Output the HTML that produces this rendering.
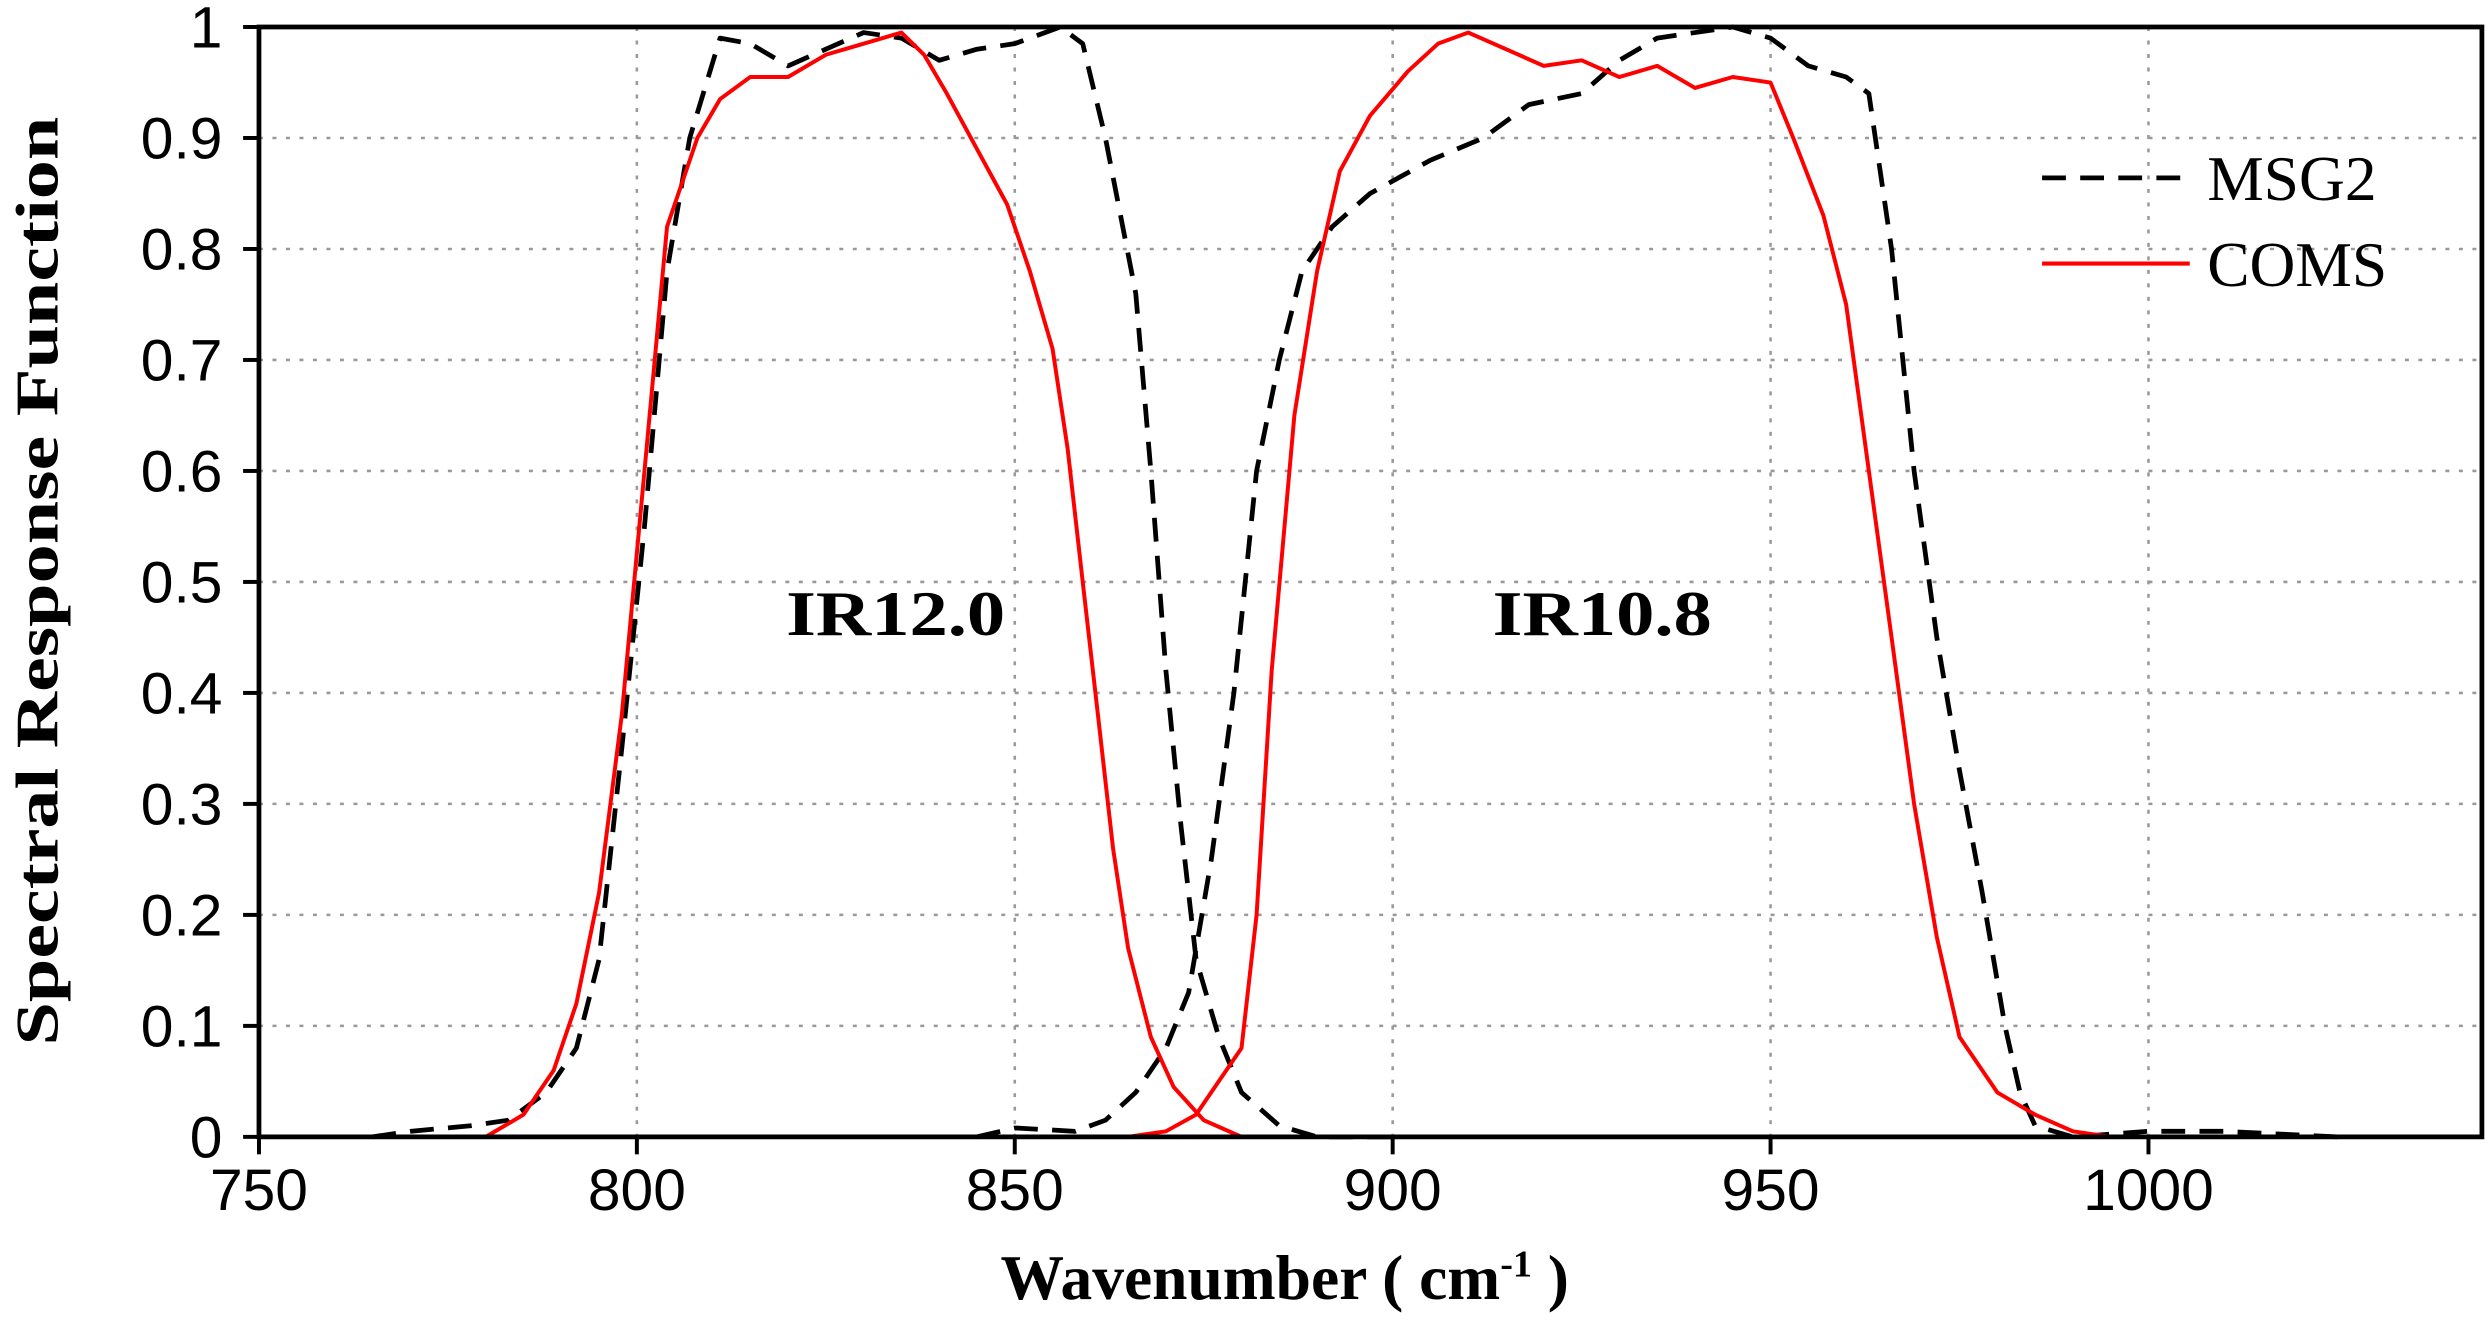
<!DOCTYPE html>
<html><head><meta charset="utf-8"><style>html,body{margin:0;padding:0;background:#fff}svg{display:block}</style></head>
<body>
<svg id="s" xmlns="http://www.w3.org/2000/svg" width="2490" height="1329" viewBox="0 0 1568 837">
<rect width="1568" height="837" fill="#fff"/>
<g id="grid" stroke="#999" stroke-width="1.6" stroke-dasharray="2.5,6"></g>
<g id="series" fill="none" stroke-linejoin="round"></g>
<rect x="163" y="17" width="1400" height="699" fill="none" stroke="#000" stroke-width="3"/>
<g id="ticks" stroke="#000" stroke-width="2.5"></g>
<g id="labels" font-family="Liberation Sans, sans-serif" font-size="37" fill="#000"></g>
<g font-family="Liberation Serif, serif" font-weight="bold" fill="#000">
<text x="495" y="400" font-size="40" textLength="138" lengthAdjust="spacingAndGlyphs">IR12.0</text>
<text x="940" y="400" font-size="40" textLength="138" lengthAdjust="spacingAndGlyphs">IR10.8</text>
<text transform="translate(36,366) rotate(-90)" text-anchor="middle" font-size="38" textLength="585" lengthAdjust="spacingAndGlyphs">Spectral Response Function</text>
<text x="630" y="818" font-size="40">Wavenumber ( cm<tspan font-size="24" dy="-14">-1</tspan><tspan dy="14"> )</tspan></text>
</g>
<g font-family="Liberation Serif, serif" font-size="40" fill="#000">
<line x1="1286" y1="112" x2="1379" y2="112" stroke="#000" stroke-width="3" stroke-dasharray="15,9"/>
<text x="1390" y="126">MSG2</text>
<line x1="1286" y1="166" x2="1379" y2="166" stroke="#f00" stroke-width="2.6"/>
<text x="1390" y="180">COMS</text>
</g>
</svg>
<script>
var NS="http://www.w3.org/2000/svg";
function X(v){return 163+(v-750)*4.76}
function Y(f){return 716-f*699}
function el(p,n,a,t){var e=document.createElementNS(NS,n);for(var k in a)e.setAttribute(k,a[k]);if(t)e.textContent=t;document.getElementById(p).appendChild(e);}
for(var v=800;v<=1000;v+=50)el("grid","line",{x1:X(v),x2:X(v),y1:17,y2:716});
for(var i=1;i<=9;i++)el("grid","line",{x1:163,x2:1563,y1:Y(i/10),y2:Y(i/10)});
for(var v=750;v<=1000;v+=50){el("ticks","line",{x1:X(v),x2:X(v),y1:716,y2:727});el("labels","text",{x:X(v),y:762,"text-anchor":"middle"},String(v));}
for(var i=0;i<=10;i++){var f=i/10;el("ticks","line",{x1:153,x2:163,y1:Y(f),y2:Y(f)});el("labels","text",{x:140,y:Y(f)+13,"text-anchor":"end"},i==10?"1":i==0?"0":f.toFixed(1));}
function pl(d,c,w,da){var p=d.map(function(q){return X(q[0]).toFixed(1)+","+Y(q[1]).toFixed(1)}).join(" ");var a={points:p,stroke:c,"stroke-width":w};if(da)a["stroke-dasharray"]=da;el("series","polyline",a);}
var m12=[[765,0],[770,0.005],[778,0.01],[783,0.015],[788,0.04],[792,0.08],[795,0.16],[798,0.35],[801,0.55],[804,0.78],[807,0.9],[811,0.99],[815,0.985],[820,0.965],[825,0.98],[830,0.995],[835,0.99],[840,0.97],[845,0.98],[850,0.985],[856,1.0],[859,0.985],[862,0.9],[866,0.76],[868,0.6],[870,0.42],[872,0.28],[874,0.16],[877,0.09],[880,0.04],[885,0.01],[890,0],[900,0]];
var m108=[[845,0],[850,0.008],[858,0.005],[862,0.015],[866,0.04],[870,0.08],[873,0.13],[876,0.25],[879,0.4],[882,0.6],[885,0.7],[888,0.78],[892,0.82],[897,0.85],[905,0.88],[912,0.9],[918,0.93],[925,0.94],[930,0.97],[935,0.99],[940,0.995],[945,1.0],[950,0.99],[955,0.965],[960,0.955],[963,0.94],[966,0.8],[969,0.6],[972,0.45],[975,0.33],[978,0.22],[981,0.1],[983,0.04],[985,0.01],[990,0],[1000,0.005],[1010,0.005],[1025,0]];
var c12=[[750,0],[780,0],[785,0.02],[789,0.06],[792,0.12],[795,0.22],[798,0.38],[801,0.6],[804,0.82],[808,0.9],[811,0.935],[815,0.955],[820,0.955],[825,0.975],[830,0.985],[835,0.995],[838,0.975],[841,0.94],[845,0.89],[849,0.84],[852,0.78],[855,0.71],[857,0.62],[859,0.5],[861,0.38],[863,0.26],[865,0.17],[868,0.09],[871,0.045],[875,0.015],[880,0]];
var c108=[[865,0],[870,0.005],[874,0.02],[877,0.05],[880,0.08],[882,0.2],[884,0.42],[887,0.65],[890,0.78],[893,0.87],[897,0.92],[902,0.96],[906,0.985],[910,0.995],[915,0.98],[920,0.965],[925,0.97],[930,0.955],[935,0.965],[940,0.945],[945,0.955],[950,0.95],[953,0.9],[957,0.83],[960,0.75],[963,0.6],[966,0.45],[969,0.3],[972,0.18],[975,0.09],[980,0.04],[985,0.02],[990,0.005],[995,0],[1044,0]];
pl(m12,"#000",3,"15,9");pl(m108,"#000",3,"15,9");pl(c12,"#f00",2.5);pl(c108,"#f00",2.5);
</script>
</body></html>
